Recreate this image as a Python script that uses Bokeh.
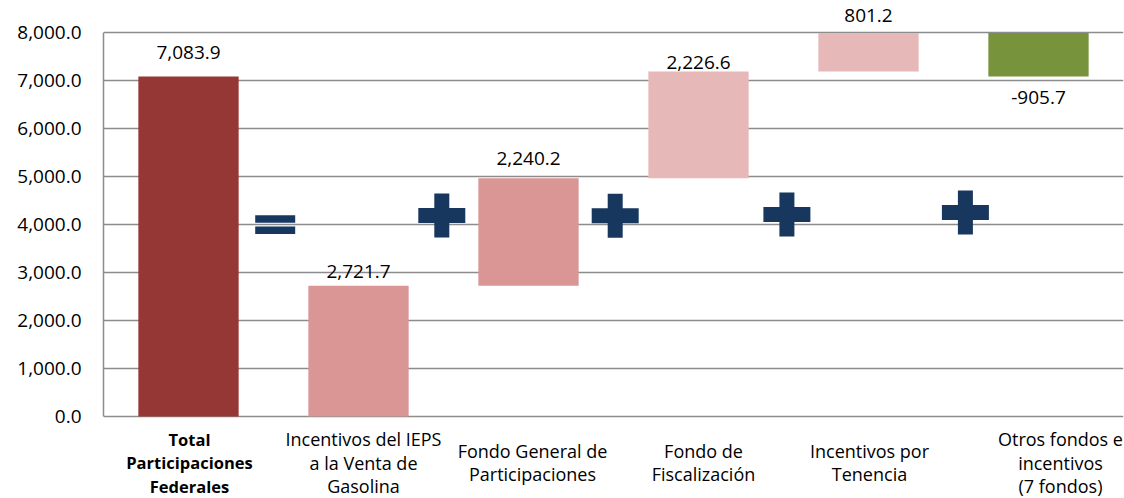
from bokeh.plotting import figure
from bokeh.models import ColumnDataSource, LabelSet, NumeralTickFormatter, FixedTicker, Range1d
from bokeh.core.properties import value
from bokeh.embed import file_html
from bokeh.resources import INLINE

# ---- data ----
categories = [
    "Total\nParticipaciones\nFederales",
    "Incentivos del IEPS\na la Venta de\nGasolina",
    "Fondo General de\nParticipaciones",
    "Fondo de\nFiscalización",
    "Incentivos por\nTenencia",
    "Otros fondos e\nincentivos\n(7 fondos)",
]
total_value = 7083.9
component_values = [2721.7, 2240.2, 2226.6, 801.2, -905.7]
y_ticks = [0, 1000, 2000, 3000, 4000, 5000, 6000, 7000, 8000]

# ---- styles ----
bar_colors = ["#953735", "#D99694", "#D99694", "#E6B9B8", "#E6B9B8", "#77933C"]
label_dy = [24, 14, 20, 9, 17, -21]          # px offset of value labels
cat_dx = [1, 5, 4, 5, 1, 22]                 # px offset of category labels
cat_styles = ["bold", "normal", "normal", "normal", "normal", "normal"]
cat_sizes = ["16.5px", "18px", "18px", "18px", "18px", "18px"]
line_step = 23.5                              # px between label lines
block_center = -46                            # px below the zero line
op_color = "#17375E"
FONT = "Open Sans"

# ---- layout: axis value 0 at 416px, 8000 at 32px; canvas 498px tall ----
H = 498
px_per_unit = (416 - 32) / 8000.0
y_lo = -(H - 416) / px_per_unit
y_hi = 416 / px_per_unit

# ---- waterfall geometry from data ----
bottoms, tops = [0.0], [total_value]
running = 0.0
for v in component_values:
    b, t = running, running + v
    bottoms.append(min(b, t))
    tops.append(max(b, t))
    running += v
values = [total_value] + component_values
xs = [i + 0.5 for i in range(len(categories))]
anchor = [tops[i] if values[i] >= 0 else bottoms[i] for i in range(len(values))]
texts = ["{:,.1f}".format(v) for v in values]

src = ColumnDataSource(dict(x=xs, bottom=bottoms, top=tops, color=bar_colors,
                            anchor=anchor, text=texts, dy=label_dy))

# category label lines, each line centred on its own
lx, ly, lt, ldx, ldy, lst, lsz = [], [], [], [], [], [], []
for i, cat in enumerate(categories):
    lines = cat.split("\n")
    n = len(lines)
    for j, line in enumerate(lines):
        lx.append(xs[i]); ly.append(0); lt.append(line)
        ldx.append(cat_dx[i])
        ldy.append(block_center + ((n - 1) / 2.0 - j) * line_step)
        lst.append(cat_styles[i]); lsz.append(cat_sizes[i])
lsrc = ColumnDataSource(dict(x=lx, y=ly, text=lt, dx=ldx, dy=ldy, style=lst, size=lsz))

p = figure(width=1124, height=H, output_backend="svg", toolbar_location=None,
           x_range=Range1d(0, len(categories)), y_range=Range1d(y_lo, y_hi),
           min_border_left=103, min_border_right=1, min_border_top=0, min_border_bottom=0)
p.outline_line_color = None
p.background_fill_color = "white"
p.border_fill_color = "white"
p.xaxis.visible = False

p.vbar(x="x", bottom="bottom", top="top", width=0.59, fill_color="color",
       line_color=None, source=src)

# operators (=, +) between categories
eq_x, eq_y = 1.01, 4000
p.rect(x=[eq_x, eq_x], y=[eq_y + 112, eq_y - 118], width=40, height=7.5,
       width_units="screen", height_units="screen", fill_color=op_color, line_color=None)
plus_x = [1.99, 3.01, 4.02, 5.07]
plus_y = [4190, 4180, 4210, 4250]
p.rect(x=plus_x, y=plus_y, width=47, height=15, width_units="screen", height_units="screen",
       fill_color=op_color, line_color=None)
p.rect(x=plus_x, y=plus_y, width=15, height=44, width_units="screen", height_units="screen",
       fill_color=op_color, line_color=None)

# value labels
p.add_layout(LabelSet(x="x", y="anchor", text="text", y_offset="dy", source=src,
                      text_align="center", text_baseline="middle",
                      text_font=value(FONT), text_font_size="19px", text_color="#000000"))

# category labels
p.add_layout(LabelSet(x="x", y="y", text="text", x_offset="dx", y_offset="dy", source=lsrc,
                      text_align="center", text_baseline="middle", text_font_style="style",
                      text_font=value(FONT), text_font_size="size", text_color="#000000"))

# axes
p.yaxis.ticker = FixedTicker(ticks=y_ticks)
p.yaxis.bounds = (0, 8000)
p.yaxis.formatter = NumeralTickFormatter(format="0,0.0")
p.yaxis.major_label_text_font = FONT
p.yaxis.major_label_text_font_size = "19px"
p.yaxis.major_label_text_color = "#000000"
p.yaxis.major_tick_line_color = None
p.yaxis.minor_tick_line_color = None
p.yaxis.major_label_standoff = 16
p.yaxis.axis_line_color = "#8C8C8C"
p.yaxis.axis_line_width = 1.5

p.xgrid.grid_line_color = None
p.ygrid.ticker = FixedTicker(ticks=y_ticks)
p.ygrid.grid_line_color = "#8C8C8C"
p.ygrid.grid_line_width = 1.5

open("out.html", "w").write(file_html(p, INLINE))
